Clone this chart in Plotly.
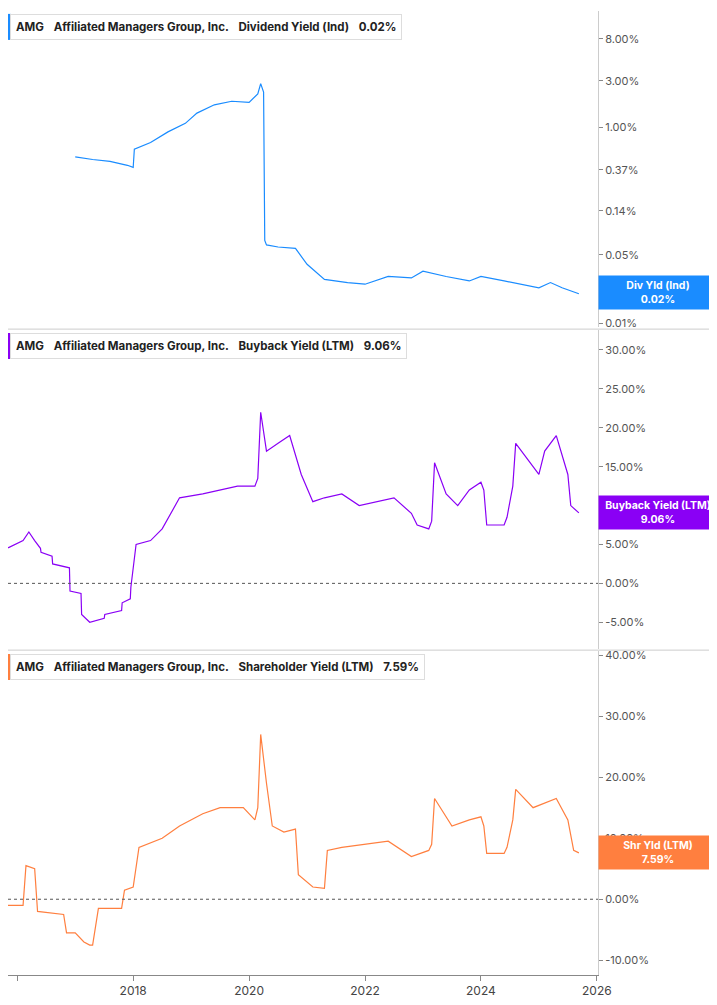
import numpy as np
import plotly.graph_objects as go

# dividend yield (ind), %
div_x = [2017.0, 2017.3, 2017.6, 2017.9, 2018.0, 2018.02, 2018.3, 2018.6, 2018.9, 2019.1, 2019.4, 2019.7, 2020.0,
         2020.15, 2020.2, 2020.25, 2020.27, 2020.3, 2020.5, 2020.8, 2021.0, 2021.3, 2021.7, 2022.0, 2022.4,
         2022.8, 2023.0, 2023.4, 2023.8, 2024.0, 2024.4, 2024.8, 2025.0, 2025.2, 2025.4, 2025.69]
div_y = [0.50, 0.47, 0.45, 0.41, 0.39, 0.60, 0.70, 0.90, 1.10, 1.40, 1.70, 1.85, 1.80,
         2.20, 2.80, 2.30, 0.07, 0.063, 0.060, 0.058, 0.040, 0.028, 0.026, 0.025, 0.030,
         0.029, 0.034, 0.030, 0.027, 0.030, 0.027, 0.024, 0.023, 0.026, 0.023, 0.020]

# buyback yield (LTM), %
bb_x = [2015.72, 2015.85, 2016.1, 2016.2, 2016.3, 2016.4, 2016.41, 2016.6, 2016.61, 2016.9, 2016.91, 2017.1, 2017.11,
        2017.25, 2017.5, 2017.51, 2017.8, 2017.81, 2017.95, 2017.96, 2018.05, 2018.3, 2018.5, 2018.8, 2019.2,
        2019.5, 2019.8, 2020.1, 2020.15, 2020.2, 2020.3, 2020.5, 2020.7, 2020.9, 2021.1, 2021.3, 2021.6,
        2021.9, 2022.2, 2022.5, 2022.8, 2022.9, 2023.1, 2023.15, 2023.2, 2023.4, 2023.6, 2023.8, 2024.0,
        2024.05, 2024.1, 2024.4, 2024.45, 2024.55, 2024.6, 2024.8, 2025.0, 2025.1, 2025.3, 2025.5, 2025.55, 2025.69]
bb_y = [4.5, 4.6, 5.5, 6.6, 5.5, 4.5, 4.0, 3.5, 2.5, 2.0, -1.0, -1.3, -4.0,
        -5.0, -4.5, -4.0, -3.5, -2.5, -2.0, -0.5, 5.0, 5.5, 7.0, 11.0, 11.5,
        12.0, 12.5, 12.5, 13.5, 22.0, 17.0, 18.0, 19.0, 14.0, 10.5, 11.0, 11.5,
        10.0, 10.5, 11.0, 9.0, 7.5, 7.0, 8.0, 15.5, 11.5, 10.0, 12.0, 13.0,
        12.0, 7.5, 7.5, 8.5, 12.5, 18.0, 16.0, 14.0, 17.0, 19.0, 14.0, 10.0, 9.06]

# shareholder yield (LTM), %
sh_x = [2015.72, 2016.1, 2016.15, 2016.3, 2016.35, 2016.8, 2016.85, 2017.0, 2017.15, 2017.25, 2017.3, 2017.4,
        2017.8, 2017.85, 2018.0, 2018.1, 2018.5, 2018.8, 2019.2, 2019.5, 2019.9, 2020.1, 2020.15, 2020.2,
        2020.3, 2020.4, 2020.6, 2020.8, 2020.85, 2021.1, 2021.3, 2021.35, 2021.6, 2022.0, 2022.4, 2022.8,
        2023.1, 2023.15, 2023.2, 2023.5, 2023.8, 2024.0, 2024.05, 2024.1, 2024.4, 2024.45, 2024.55, 2024.6,
        2024.9, 2025.3, 2025.5, 2025.6, 2025.69]
sh_y = [-1.0, -1.0, 5.5, 5.0, -2.0, -2.5, -5.5, -5.5, -7.0, -7.5, -7.5, -1.5,
        -1.5, 1.5, 2.0, 8.5, 10.0, 12.0, 14.0, 15.0, 15.0, 13.0, 15.0, 27.0,
        19.0, 12.0, 11.0, 11.5, 4.0, 2.0, 1.8, 8.0, 8.5, 9.0, 9.5, 7.0,
        8.0, 9.0, 16.5, 12.0, 13.0, 13.5, 12.0, 7.5, 7.5, 8.5, 13.0, 18.0,
        15.0, 16.5, 13.0, 8.0, 7.59]

years = [2016, 2018, 2020, 2022, 2024, 2026]
div_ticks = [8, 3, 1, 0.37, 0.14, 0.05, 0.02, 0.01]
bb_ticks = [30, 25, 20, 15, 10, 5, 0, -5]
sh_ticks = [40, 30, 20, 10, 0, -10]

blue, purple, orange = "#1a8cff", "#8a00f5", "#ff7f3f"

fig = go.Figure()
fig.add_trace(go.Scatter(x=div_x, y=div_y, mode="lines", line=dict(color=blue, width=1.2), xaxis="x", yaxis="y"))
fig.add_trace(go.Scatter(x=bb_x, y=bb_y, mode="lines", line=dict(color=purple, width=1.2), xaxis="x2", yaxis="y2"))
fig.add_trace(go.Scatter(x=sh_x, y=sh_y, mode="lines", line=dict(color=orange, width=1.2), xaxis="x3", yaxis="y3"))

xr = [2015.84, 2026.02]
xcommon = dict(range=xr, showgrid=False, zeroline=False, tickvals=years)
yfont = dict(family="Inter, Roboto, sans-serif", size=11, color="#555")
ycommon = dict(side="right", showgrid=False, zeroline=False, ticks="outside", ticklen=4, tickcolor="#888",
               showline=True, linecolor="#ccc", tickfont=yfont)
fig.update_layout(
    width=709, height=997, margin=dict(l=0, r=119, t=0, b=30),
    plot_bgcolor="white", paper_bgcolor="white", showlegend=False,
    xaxis=dict(domain=[0, 1], anchor="y", showticklabels=False, **xcommon),
    xaxis2=dict(domain=[0, 1], anchor="y2", showticklabels=False, **xcommon),
    xaxis3=dict(domain=[0, 1], anchor="y3", ticks="outside", ticklen=5, tickcolor="#888",
                showline=True, linecolor="#888", ticktext=[str(y) for y in years],
                tickfont=dict(family="Inter, Roboto, sans-serif", size=12, color="#444"), **xcommon),
    yaxis=dict(domain=[0.672, 1], type="log", range=[-2.041, 1.189],
               tickvals=div_ticks, ticktext=["%.2f%%" % v for v in div_ticks], **ycommon),
    yaxis2=dict(domain=[0.338, 0.669], range=[-8.46, 32.56], anchor="x2",
                tickvals=bb_ticks, ticktext=["%.2f%%" % v for v in bb_ticks], **ycommon),
    yaxis3=dict(domain=[0, 0.336], range=[-12.41, 40.65], anchor="x3",
                tickvals=sh_ticks, ticktext=["%.2f%%" % v for v in sh_ticks], **ycommon),
)

# zero dotted lines
for xa, ya in [("x2", "y2"), ("x3", "y3")]:
    fig.add_shape(type="line", xref=xa + " domain", yref=ya, x0=0, x1=1, y0=0, y1=0,
                  line=dict(color="#555", width=1, dash="dot"))
# panel separators
for yv in [0.670, 0.337]:
    fig.add_shape(type="line", xref="paper", yref="paper", x0=0, x1=1.22, y0=yv, y1=yv,
                  line=dict(color="#ccc", width=1))

# header boxes
headers = [("Dividend Yield (Ind)", "0.02%", blue, 0.997),
           ("Buyback Yield (LTM)", "9.06%", purple, 0.666),
           ("Shareholder Yield (LTM)", "7.59%", orange, 0.333)]
for name, val, col, yp in headers:
    fig.add_annotation(xref="paper", yref="paper", x=0.004, y=yp, xanchor="left", yanchor="top",
                       text="<b>AMG</b>   <b>Affiliated Managers Group, Inc.</b>   <b>%s</b>   <b>%s</b>" % (name, val),
                       showarrow=False, font=dict(family="Inter, Roboto, sans-serif", size=11.5, color="#222"),
                       bgcolor="white", bordercolor="#ddd", borderwidth=1, borderpad=5, align="left")
    fig.add_shape(type="rect", xref="paper", yref="paper", x0=0.0, x1=0.005, y0=yp - 0.027, y1=yp,
                  fillcolor=col, line=dict(width=0))

# value tags on the right
tags = [("y", "Div Yld (Ind)", 0.0205, blue, True, "0.02%"),
        ("y2", "Buyback Yield (LTM)", 9.06, purple, False, "9.06%"),
        ("y3", "Shr Yld (LTM)", 7.59, orange, False, "7.59%")]
for ya, name, yv, col, logax, val in tags:
    fig.add_annotation(xref="paper", yref=ya, x=1.0, y=np.log10(yv) if logax else yv, xanchor="left",
                       text="<b>%s</b><br><b>%s</b>" % (name, val), showarrow=False, width=112,
                       font=dict(family="Inter, Roboto, sans-serif", size=10.5, color="white"),
                       bgcolor=col, borderpad=3, align="center")

fig.write_html("out.html")
